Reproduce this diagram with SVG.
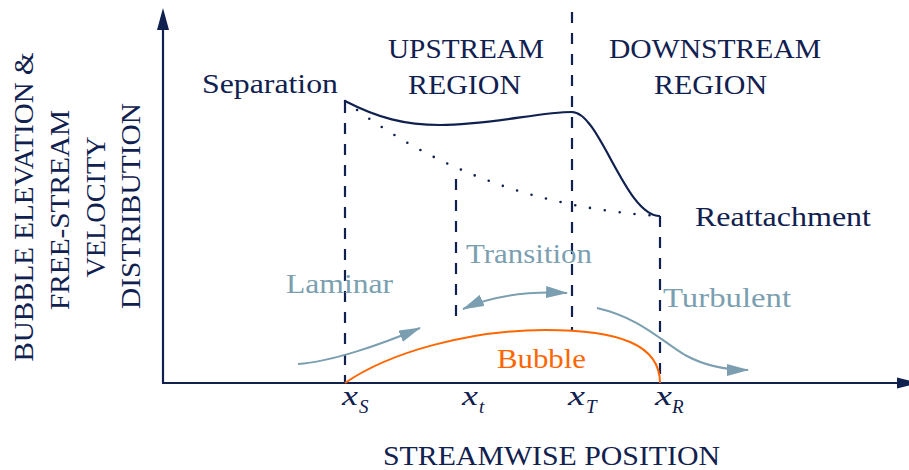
<svg xmlns="http://www.w3.org/2000/svg" width="909" height="470" viewBox="0 0 909 470">
<style>
  text { font-family: 'Liberation Serif', 'Times New Roman', serif; font-size: 28px; }
  .n { fill: #10204f; }
  .g { fill: #7b9fb1; }
  .o { fill: #ff6600; }
  .m { font-style: italic; }
  .sub { font-style: italic; font-size: 19px; }
  .axis { stroke: #10204f; stroke-width: 2.2; fill: none; }
  .dash { stroke: #10204f; stroke-width: 2.2; fill: none; stroke-dasharray: 11 10; }
  .dot { stroke: #10204f; stroke-width: 2.6; fill: none; stroke-dasharray: 0 15; stroke-linecap: round; }
  .solid { stroke: #10204f; stroke-width: 2.2; fill: none; }
  .bub { stroke: #ff6600; stroke-width: 2; fill: none; }
  .flow { stroke: #7b9fb1; stroke-width: 2; fill: none; }
</style>
<defs>
  <marker id="ah" viewBox="0 0 22 12" refX="21" refY="6" markerWidth="22" markerHeight="12" markerUnits="userSpaceOnUse" orient="auto-start-reverse">
    <path d="M0,0 L22,6 L0,12 z" fill="#7b9fb1"/>
  </marker>
</defs>

<g id="axes">
  <path class="axis" d="M163,383 V28"/>
  <polygon points="163,8 169,30 157,30" fill="#10204f"/>
  <path class="axis" d="M162,383 H899"/>
  <polygon points="919,383 897,377.5 897,388.5" fill="#10204f"/>
</g>

<g id="connectors">
  <path class="dash" d="M345,102 V383"/>
  <path class="dash" d="M456,179 V323"/>
  <path class="dash" d="M572,12 V330"/>
  <path class="dash" d="M660,216 V383"/>
  <path class="dot" d="M345,101 Q480,205 660,216"/>
  <path class="solid" d="M345,101 C378,118 405,125 440,125 C490,125 540,112 572,112 C600,112 625,216 660,216"/>
  <path class="bub" d="M345,383 C390,352 470,330 545,330 C620,330 660,345 660,383"/>
  <path class="flow" d="M298,364 C330,362 380,345 420,328" marker-end="url(#ah)"/>
  <path class="flow" d="M463,309 Q505,290 567,293" marker-start="url(#ah)" marker-end="url(#ah)"/>
  <path class="flow" d="M597,308 C640,318 660,340 685,355 C705,366 725,370 748,370" marker-end="url(#ah)"/>
</g>

<g id="y-label">
  <text class="n" transform="translate(33,207) rotate(-90)" text-anchor="middle" textLength="309" lengthAdjust="spacingAndGlyphs">BUBBLE ELEVATION &amp;</text>
  <text class="n" transform="translate(69,210) rotate(-90)" text-anchor="middle" textLength="200" lengthAdjust="spacingAndGlyphs">FREE-STREAM</text>
  <text class="n" transform="translate(105,207) rotate(-90)" text-anchor="middle" textLength="141" lengthAdjust="spacingAndGlyphs">VELOCITY</text>
  <text class="n" transform="translate(140,206) rotate(-90)" text-anchor="middle" textLength="206" lengthAdjust="spacingAndGlyphs">DISTRIBUTION</text>
</g>
<g id="x-label">
  <text class="n" x="383" y="465" textLength="337" lengthAdjust="spacingAndGlyphs">STREAMWISE POSITION</text>
</g>

<g id="upstream">
  <text class="n" x="388" y="58" textLength="156" lengthAdjust="spacingAndGlyphs">UPSTREAM</text>
  <text class="n" x="408" y="94" textLength="113" lengthAdjust="spacingAndGlyphs">REGION</text>
</g>
<g id="downstream">
  <text class="n" x="609" y="58" textLength="212" lengthAdjust="spacingAndGlyphs">DOWNSTREAM</text>
  <text class="n" x="654" y="94" textLength="113" lengthAdjust="spacingAndGlyphs">REGION</text>
</g>
<g id="separation">
  <text class="n" x="202" y="93" textLength="136" lengthAdjust="spacingAndGlyphs">Separation</text>
</g>
<g id="reattachment">
  <text class="n" x="695" y="226" textLength="176" lengthAdjust="spacingAndGlyphs">Reattachment</text>
</g>
<g id="transition">
  <text class="g" x="466" y="263" textLength="126" lengthAdjust="spacingAndGlyphs">Transition</text>
</g>
<g id="laminar">
  <text class="g" x="286" y="293" textLength="107" lengthAdjust="spacingAndGlyphs">Laminar</text>
</g>
<g id="turbulent">
  <text class="g" x="663" y="307" textLength="128" lengthAdjust="spacingAndGlyphs">Turbulent</text>
</g>
<g id="bubble">
  <text class="o" x="497" y="368" textLength="89" lengthAdjust="spacingAndGlyphs">Bubble</text>
</g>

<g id="xS">
  <text class="n m" x="342" y="405" textLength="16" lengthAdjust="spacingAndGlyphs">x</text>
  <text class="n sub" x="359" y="413">S</text>
</g>
<g id="xt">
  <text class="n m" x="462" y="405" textLength="16" lengthAdjust="spacingAndGlyphs">x</text>
  <text class="n sub" x="479" y="413">t</text>
</g>
<g id="xT">
  <text class="n m" x="568" y="405" textLength="17" lengthAdjust="spacingAndGlyphs">x</text>
  <text class="n sub" x="586" y="413">T</text>
</g>
<g id="xR">
  <text class="n m" x="655" y="405" textLength="17" lengthAdjust="spacingAndGlyphs">x</text>
  <text class="n sub" x="672" y="413">R</text>
</g>
</svg>
